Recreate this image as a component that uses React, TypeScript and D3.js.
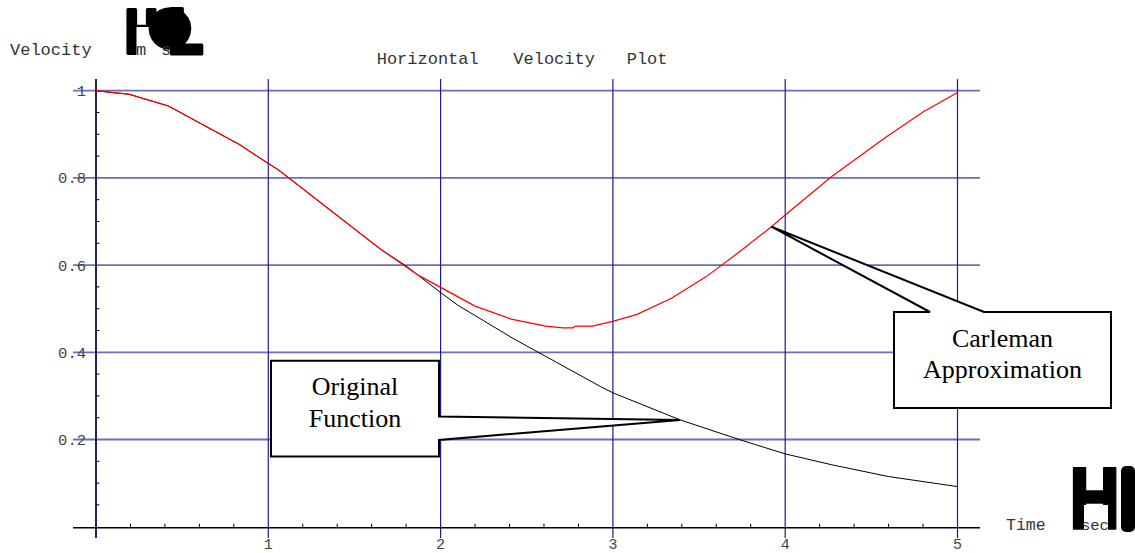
import React from "react";
import * as d3 from "d3";

// Sample times and velocities for the two curves (shared part up to t≈1.65)
const sharedTime = [0, 0.09, 0.19, 0.42, 0.83, 1.0, 1.06, 1.65];
const sharedVel = [1, 0.996, 0.992, 0.965, 0.877, 0.833, 0.818, 0.637];

const originalTime = [1.8, 2.0, 2.1, 2.42, 2.93, 3.0, 3.39, 3.74, 4.0, 4.27, 4.6, 5.0];
const originalVel = [0.598, 0.537, 0.508, 0.432, 0.321, 0.307, 0.245, 0.199, 0.167, 0.142, 0.115, 0.092];

const carlemanTime = [1.87, 2.2, 2.41, 2.61, 2.71, 2.77, 2.78, 2.88, 3.0, 3.14, 3.34, 3.54, 3.75, 3.92, 4.0, 4.27, 4.59, 4.8, 5.0];
const carlemanVel = [0.577, 0.506, 0.476, 0.46, 0.456, 0.456, 0.46, 0.46, 0.471, 0.487, 0.524, 0.573, 0.635, 0.688, 0.715, 0.803, 0.895, 0.951, 0.996];

const xTicks = [1, 2, 3, 4, 5];
const yTicks = [0.2, 0.4, 0.6, 0.8, 1];
const yTickLabels = ["0.2", "0.4", "0.6", "0.8", "1"];

const titleWords = ["Horizontal", "Velocity", "Plot"];

const x = d3.scaleLinear().domain([0, 5]).range([96, 957.5]);
const y = d3.scaleLinear().domain([0, 1]).range([526.7, 90.7]);

const toPts = (t: number[], v: number[]) => t.map((tt, i) => [tt, v[i]] as [number, number]);

const line = d3
  .line<[number, number]>()
  .x((d) => x(d[0]))
  .y((d) => y(d[1]));

const originalPts = [...toPts(sharedTime, sharedVel), ...toPts(originalTime, originalVel)];
const carlemanPts = [...toPts(sharedTime, sharedVel), ...toPts(carlemanTime, carlemanVel)];

const mono = "'Liberation Mono', 'Courier New', monospace";
const serif = "'Liberation Serif', 'Times New Roman', serif";
const heavy = "'DejaVu Sans', sans-serif";

export default function App() {
  const gridLeft = 73;
  const gridRight = 980;
  const vTop = 79;
  const vBottom = 538;

  const yMinor = d3.range(0.05, 1.0001, 0.05).filter((v) => Math.abs(v * 5 - Math.round(v * 5)) > 1e-6);
  const xMinor = d3.range(0.2, 5.0001, 0.2).filter((v) => Math.abs(v - Math.round(v)) > 1e-6);

  // word positions in the title line
  const titleX = [376.7, 513.3, 626.7];

  // Original Function callout
  const tipO: [number, number] = [x(3.39), y(0.245)];
  const origPath = `M271,360.7 H439 V416.5 L${tipO[0]},${tipO[1]} L439,440 V456.5 H271 Z`;
  // Carleman Approximation callout
  const tipC: [number, number] = [x(3.92), y(0.688)];
  const carlPath = `M894,312 H930 L${tipC[0]},${tipC[1]} L984,312 H1111 V408 H894 Z`;

  return (
    <svg
      width={1135}
      height={553}
      style={{ position: "fixed", left: 0, top: 0, background: "#fff" }}
    >
      <rect x={0} y={0} width={1135} height={553} fill="#fff" />

      {/* horizontal grid */}
      {yTicks.map((v) => (
        <line key={"h" + v} x1={gridLeft} x2={gridRight} y1={y(v)} y2={y(v)} stroke="#6e6eb8" strokeWidth={1.8} />
      ))}
      {/* vertical grid */}
      {xTicks.map((t) => (
        <line key={"v" + t} x1={x(t)} x2={x(t)} y1={vTop} y2={vBottom} stroke="#1c1c8e" strokeWidth={1.2} />
      ))}

      {/* axes */}
      <line x1={gridLeft} x2={gridRight} y1={y(0) + 1} y2={y(0) + 1} stroke="#000" strokeWidth={1.5} />
      <line x1={x(0)} x2={x(0)} y1={vTop} y2={vBottom} stroke="#23234a" strokeWidth={2} />

      {/* minor ticks */}
      {yMinor.map((v) => (
        <line key={"ym" + v} x1={x(0)} x2={x(0) + 3.5} y1={y(v)} y2={y(v)} stroke="#000" strokeWidth={1} />
      ))}
      {xMinor.map((t) => (
        <line key={"xm" + t} x1={x(t)} x2={x(t)} y1={y(0) + 1} y2={y(0) - 3} stroke="#000" strokeWidth={1} />
      ))}

      {/* tick labels */}
      {yTicks.map((v, i) => (
        <text key={"yl" + v} x={86} y={y(v) + 5.5} textAnchor="end" fontFamily={mono} fontSize={15.5} fill="#444">
          {yTickLabels[i]}
        </text>
      ))}
      {xTicks.map((t) => (
        <text key={"xl" + t} x={x(t)} y={549} textAnchor="middle" fontFamily={mono} fontSize={15} fill="#444">
          {t}
        </text>
      ))}

      {/* curves */}
      <path d={line(originalPts) || ""} fill="none" stroke="#000" strokeWidth={1} />
      <path d={line(carlemanPts) || ""} fill="none" stroke="#ff0000" strokeWidth={1.2} />

      {/* title */}
      {titleWords.map((w, i) => (
        <text key={w} x={titleX[i]} y={64} fontFamily={mono} fontSize={17} fill="#333">
          {w}
        </text>
      ))}

      {/* y axis label with its bracket glyphs */}
      <text x={10} y={55} fontFamily={mono} fontSize={17} fill="#333">Velocity</text>
      <text
        transform="translate(124,53) scale(0.95,1.32)"
        fontFamily={heavy}
        fontWeight="bold"
        fontSize={44}
        fill="#000"
        stroke="#000"
        strokeWidth={3}
        strokeLinejoin="round"
      >
        H
      </text>
      <rect x={136.5} y={27} width={30} height={30} fill="#fff" />
      <text x={170} y={43} textAnchor="middle" fontFamily={heavy} fontSize={56} fill="#000">●</text>
      <text
        transform="translate(166,54) scale(0.95,1.0)"
        fontFamily={heavy}
        fontWeight="bold"
        fontSize={62}
        fill="#000"
        stroke="#000"
        strokeWidth={3}
        strokeLinejoin="round"
      >
        L
      </text>
      <text x={136} y={55} fontFamily={mono} fontSize={17} fill="#333">m</text>
      <text x={161} y={55} fontFamily={mono} fontSize={17} fill="#333">s</text>

      {/* x axis label with its bracket glyphs */}
      <text x={1006} y={530} fontFamily={mono} fontSize={16.5} fill="#333">Time</text>
      <text
        transform="translate(1067.5,529) scale(1.2,1.55)"
        fontFamily={heavy}
        fontWeight="bold"
        fontSize={54}
        fill="#000"
        stroke="#000"
        strokeWidth={1}
        strokeLinejoin="round"
      >
        H
      </text>
      <rect x={1084} y={505} width={24} height={30} fill="#fff" />
      <rect x={1121} y={466} width={14} height={66} rx={5} fill="#000" />
      <text x={1081} y={530} fontFamily={mono} fontSize={15.5} fill="#333">sec</text>

      {/* callouts */}
      <path d={origPath} fill="#fff" stroke="#000" strokeWidth={2} strokeLinejoin="miter" />
      <text x={355} y={395} textAnchor="middle" fontFamily={serif} fontSize={26} fill="#000">Original</text>
      <text x={355} y={426.7} textAnchor="middle" fontFamily={serif} fontSize={26} fill="#000">Function</text>

      <path d={carlPath} fill="#fff" stroke="#000" strokeWidth={2} strokeLinejoin="miter" />
      <text x={1002.5} y={346.7} textAnchor="middle" fontFamily={serif} fontSize={26} fill="#000">Carleman</text>
      <text x={1002.5} y={378.3} textAnchor="middle" fontFamily={serif} fontSize={26} fill="#000">Approximation</text>
    </svg>
  );
}
